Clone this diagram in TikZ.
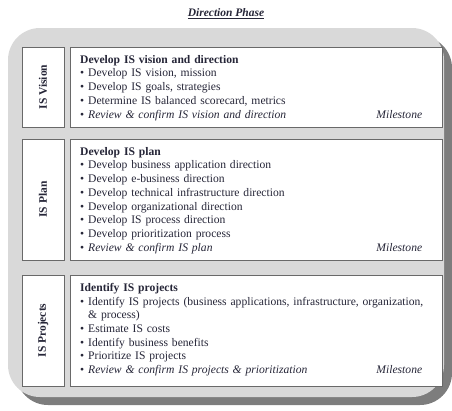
\documentclass[tikz,border=0pt]{standalone}
\usepackage{fontspec}
\setmainfont{Liberation Serif}

\definecolor{ink}{RGB}{38,38,56}
\definecolor{boxline}{RGB}{105,105,105}
\definecolor{panel}{RGB}{217,217,217}
\definecolor{panelshade}{RGB}{125,125,125}

\hyphenpenalty=10000
% bullet line with hanging indent
\newcommand\itm{\par\noindent\hangindent=8pt\hangafter=1\makebox[8pt][l]{\textbullet}}

\begin{document}
\begin{tikzpicture}[x=1pt,y=-1pt,
    box/.style={draw=boxline, line width=1pt, fill=white},
    phase/.style={rotate=90, text=ink, font=\fontsize{11.5}{12}\selectfont\bfseries},
    body/.style={anchor=north west, inner sep=0pt, text width=358pt, align=left, text=ink,
        font=\fontsize{11.6}{13.7}\selectfont}]
    \useasboundingbox (0,0) rectangle (452,410);
    % grey panel with its shadow
    \fill[panelshade, rounded corners=32pt] (16,36) rectangle (452,405);
    \fill[panel, rounded corners=32pt] (8,28) rectangle (444,397);
    \node[text=ink, font=\fontsize{11.5}{12}\selectfont\bfseries\itshape] (title) at (226,14) {\underline{Direction Phase}};

    % IS Vision
    \draw[box] (22,47) rectangle (64,127);
    \draw[box] (70,47) rectangle (442,127);
    \node[phase] (vision) at (43,87) {IS Vision};
    \node[body] (visiontext) at (80,55) {\textbf{Develop IS vision and direction}
        \itm Develop IS vision, mission
        \itm Develop IS goals, strategies
        \itm Determine IS balanced scorecard, metrics
        \itm \textit{Review \& confirm IS vision and direction}\hfill\textit{Milestone}\hspace*{16pt}};

    % IS Plan
    \draw[box] (22,139) rectangle (64,260);
    \draw[box] (70,139) rectangle (442,260);
    \node[phase] (plan) at (43,199.5) {IS Plan};
    \node[body] (plantext) at (80,147) {\textbf{Develop IS plan}
        \itm Develop business application direction
        \itm Develop e-business direction
        \itm Develop technical infrastructure direction
        \itm Develop organizational direction
        \itm Develop IS process direction
        \itm Develop prioritization process
        \itm \textit{Review \& confirm IS plan}\hfill\textit{Milestone}\hspace*{16pt}};

    % IS Projects
    \draw[box] (22,275) rectangle (64,386);
    \draw[box] (70,275) rectangle (442,386);
    \node[phase] (projects) at (43,330.5) {IS Projects};
    \node[body] (projectstext) at (80,283) {\textbf{Identify IS projects}
        \itm Identify IS projects (business applications, infrastructure, organization,\newline \& process)
        \itm Estimate IS costs
        \itm Identify business benefits
        \itm Prioritize IS projects
        \itm \textit{Review \& confirm IS projects \& prioritization}\hfill\textit{Milestone}\hspace*{16pt}};
\end{tikzpicture}
\end{document}
